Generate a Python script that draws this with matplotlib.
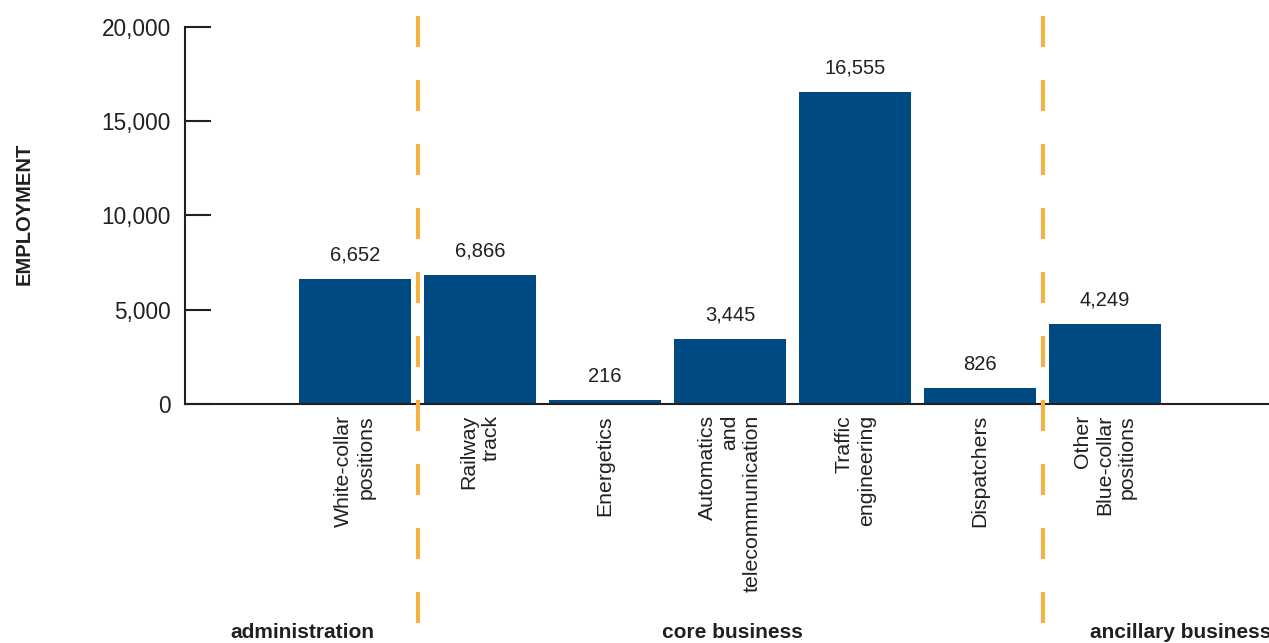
import matplotlib
matplotlib.use("Agg")
import matplotlib.pyplot as plt
from matplotlib.lines import Line2D

plt.rcParams['font.family'] = ['Liberation Sans', 'DejaVu Sans']

categories = ["White-collar\npositions", "Railway\ntrack", "Energetics",
              "Automatics\nand\ntelecommunication", "Traffic\nengineering",
              "Dispatchers", "Other\nBlue-collar\npositions"]
values = [6652, 6866, 216, 3445, 16555, 826, 4249]
value_labels = ["6,652", "6,866", "216", "3,445", "16,555", "826", "4,249"]
y_ticks = [0, 5000, 10000, 15000, 20000]
y_tick_labels = ["0", "5,000", "10,000", "15,000", "20,000"]
group_names = ["administration", "core business", "ancillary business"]
group_dividers = [0.5, 5.5]

W, H = 1269, 643
fig = plt.figure(figsize=(W / 100, H / 100), dpi=100)

ax_left_px, ax_right_px = 185, 1269
ax_top_px, ax_bottom_px = 27, 404
ax = fig.add_axes([ax_left_px / W, (H - ax_bottom_px) / H,
                   (ax_right_px - ax_left_px) / W, (ax_bottom_px - ax_top_px) / H])

dark = "#231F20"
bar_color = "#004A84"
orange = "#F8B040"

x = list(range(len(categories)))
ax.bar(x, values, width=0.9, color=bar_color, zorder=2)

# x scale: centre of first bar at 355px, 125px per category
first_px, step_px = 355, 125
ax.set_xlim((ax_left_px - first_px) / step_px, (ax_right_px - first_px) / step_px)
ax.set_ylim(0, 20000)

for xi, v, lab in zip(x, values, value_labels):
    ax.annotate(lab, (xi, v), xytext=(0, 17), textcoords="offset points",
                ha="center", va="center", fontsize=14.5, color=dark)

ax.set_yticks(y_ticks)
ax.set_yticklabels(y_tick_labels, fontsize=16.3, color=dark)
ax.tick_params(axis="y", direction="in", length=18.7, width=1.5, color=dark, pad=10)

ax.set_xticks(x)
ax.set_xticklabels(categories, rotation=90, ha="center", va="top",
                   multialignment="right", fontsize=15.3, color=dark, linespacing=1.22)
ax.tick_params(axis="x", length=0, pad=8)

for s in ["top", "right"]:
    ax.spines[s].set_visible(False)
for s in ["left", "bottom"]:
    ax.spines[s].set_color(dark)
    ax.spines[s].set_linewidth(1.5)
    ax.spines[s].set_zorder(3)

# dashed group dividers
px_per_unit = 20000 / (ax_bottom_px - ax_top_px)
y_top = (ax_bottom_px - 16) * px_per_unit
y_bot = (ax_bottom_px - 625) * px_per_unit
lw = 2.9
dash_pt, gap_pt = 31 * 0.72, 33 * 0.72
for xd in group_dividers:
    ln = Line2D([xd, xd], [y_top, y_bot], color=orange, linewidth=lw,
                linestyle=(0, (dash_pt / lw, gap_pt / lw)), clip_on=False, zorder=4)
    ax.add_line(ln)

fig.text(24 / W, (H - 214) / H, "EMPLOYMENT", rotation=90, ha="center", va="center",
         fontsize=14.5, fontweight="bold", color=dark)

group_x = [(302, "center"), (732, "center"), (1090, "left")]
for name, (gx, ha) in zip(group_names, group_x):
    fig.text(gx / W, (H - 632) / H, name, ha=ha, va="center",
             fontsize=15, fontweight="bold", color=dark)

fig.savefig("out.png", dpi=100)
